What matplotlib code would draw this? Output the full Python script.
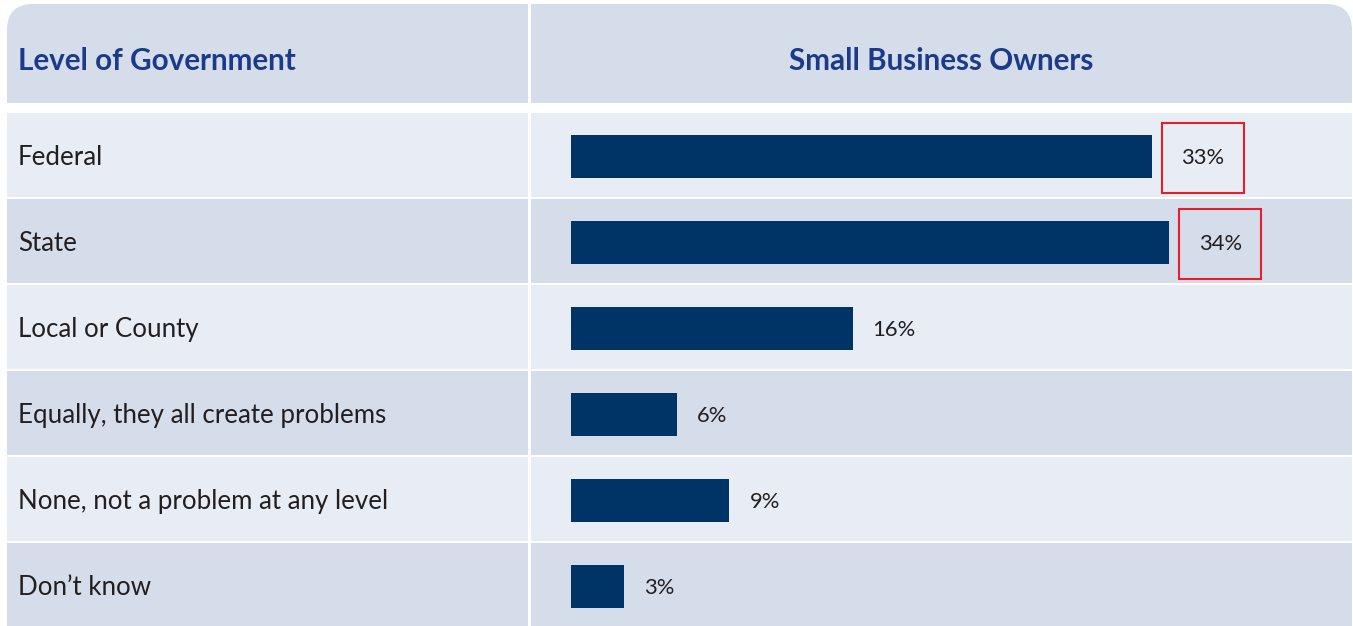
import matplotlib
matplotlib.use("Agg")
import matplotlib.pyplot as plt
from matplotlib.patches import Rectangle, FancyBboxPatch

# Survey data
categories = [
    "Federal",
    "State",
    "Local or County",
    "Equally, they all create problems",
    "None, not a problem at any level",
    "Don\u2019t know",
]
values = [33, 34, 16, 6, 9, 3]
value_labels = ["33%", "34%", "16%", "6%", "9%", "3%"]
highlighted = ["Federal", "State"]
col_headers = ["Level of Government", "Small Business Owners"]

W, H = 1353, 626
DPI = 100
plt.rcParams["font.family"] = ["Lato", "DejaVu Sans"]

fig = plt.figure(figsize=(W / DPI, H / DPI), dpi=DPI)
fig.patch.set_facecolor("white")

# Table background layer in pixel coordinates (y pointing down)
bg = fig.add_axes([0, 0, 1, 1])
bg.set_xlim(0, W)
bg.set_ylim(H, 0)
bg.axis("off")

HEADER_C = "#d5dcea"
ROW_LIGHT = "#e7ecf5"
ROW_DARK = "#d5dcea"
TITLE_C = "#1b3a8a"
TEXT_C = "#231f20"
BAR_C = "#003366"
RED = "#e3202a"

left_x0, left_x1 = 7, 528
right_x0, right_x1 = 531, 1352
head_y0, head_y1 = 4, 103
rows_y0, row_pitch, row_h = 113, 86, 84
rad = 26


def header_cell(x0, x1, round_left, round_right):
    """Header cell with rounded outer top corners only."""
    hh = head_y1 - head_y0
    bg.add_patch(FancyBboxPatch((x0 + rad, head_y0 + rad), (x1 - x0) - 2 * rad, hh - 2 * rad,
                                boxstyle=f"round,pad={rad}", fc=HEADER_C, ec="none"))
    bg.add_patch(Rectangle((x0, head_y0 + rad), x1 - x0, hh - rad, fc=HEADER_C, ec="none"))
    lx = x0 + (rad if round_left else 0)
    rx = x1 - (rad if round_right else 0)
    bg.add_patch(Rectangle((lx, head_y0), rx - lx, hh, fc=HEADER_C, ec="none"))


header_cell(left_x0, left_x1, True, False)
header_cell(right_x0, right_x1, False, True)

head_cy = (head_y0 + head_y1) / 2 + 7
bg.text(18, head_cy, col_headers[0], color=TITLE_C, fontsize=21.3, fontweight="bold",
        ha="left", va="center")
bg.text((right_x0 + right_x1) / 2, head_cy, col_headers[1], color=TITLE_C, fontsize=21.3,
        fontweight="bold", ha="center", va="center")

# Body rows
for i, cat in enumerate(categories):
    y0 = rows_y0 + i * row_pitch
    fc = ROW_LIGHT if i % 2 == 0 else ROW_DARK
    bg.add_patch(Rectangle((left_x0, y0), left_x1 - left_x0, row_h, fc=fc, ec="none"))
    bg.add_patch(Rectangle((right_x0, y0), right_x1 - right_x0, row_h, fc=fc, ec="none"))
    bg.text(18, y0 + row_h / 2 + 2.5, cat, color=TEXT_C, fontsize=18.6, ha="left", va="center")

# Bar layer over the right column: one unit per row
n = len(categories)
bar_x0, bar_x1 = 571, 1351
rows_bottom = rows_y0 + n * row_pitch
ax = fig.add_axes([bar_x0 / W, (H - rows_bottom) / H,
                   (bar_x1 - bar_x0) / W, (rows_bottom - rows_y0) / H])
ax.patch.set_alpha(0)
ax.axis("off")
ax.set_xlim(0, (bar_x1 - bar_x0) / 17.6)
ax.set_ylim(n - 0.5, -0.5)
ax.barh(range(n), values, height=43 / row_pitch, color=BAR_C)

PT = 72 / DPI  # points per pixel
for i, (v, lab, cat) in enumerate(zip(values, value_labels, categories)):
    if cat in highlighted:
        # label centred in a red outline box that starts just past the bar end
        box_gap, box_w, box_h = 10, 82, 70
        ax.annotate(lab, (v, i), xytext=((box_gap + box_w / 2) * PT, -1.5 * PT),
                    textcoords="offset points", ha="center", va="center",
                    color=TEXT_C, fontsize=15.8)
        px, py = ax.transData.transform((v, i))
        bg.add_patch(Rectangle((px + box_gap, H - py - box_h / 2 + 1.5), box_w, box_h,
                               fill=False, ec=RED, lw=1.5))
    else:
        ax.annotate(lab, (v, i), xytext=(20 * PT, -1.5 * PT), textcoords="offset points",
                    ha="left", va="center", color=TEXT_C, fontsize=15.8)

fig.savefig("out.png", dpi=DPI, facecolor="white")
